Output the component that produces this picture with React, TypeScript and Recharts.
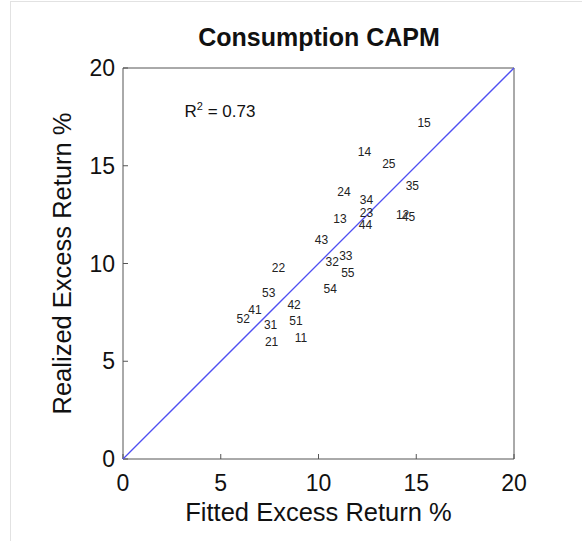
import { ScatterChart, Scatter, XAxis, YAxis, ReferenceLine } from "recharts";

// portfolio ids with fitted vs realized excess returns (%)
const portfolios = ["15", "14", "25", "35", "24", "34", "23", "13", "44", "12", "45", "43", "32", "33", "22", "55", "54", "53", "42", "41", "52", "51", "31", "21", "11"];
const fitted = [15.4, 12.35, 13.6, 14.8, 11.3, 12.45, 12.45, 11.1, 12.4, 14.3, 14.6, 10.15, 10.7, 11.4, 7.95, 11.5, 10.6, 7.45, 8.75, 6.75, 6.15, 8.85, 7.55, 7.6, 9.1];
const realized = [17.2, 15.7, 15.1, 13.95, 13.65, 13.25, 12.6, 12.3, 11.95, 12.5, 12.4, 11.2, 10.1, 10.4, 9.75, 9.5, 8.7, 8.5, 7.9, 7.6, 7.15, 7.05, 6.85, 6.0, 6.2];
const ticks = [0, 5, 10, 15, 20];
// 45 degree line
const diagX = [0, 20];
const diagY = [0, 20];

const data = portfolios.map((name, i) => ({ name, x: fitted[i], y: realized[i] }));
const diagonal = diagX.map((x, i) => ({ x, y: diagY[i] }));

const FONT = "Arial, 'Liberation Sans', sans-serif";
const BLUE = "#4f4ff2";

const PointLabel = (props: any) => (
  <text
    x={props.cx}
    y={props.cy}
    textAnchor="middle"
    dominantBaseline="central"
    fontSize={12}
    fontFamily={FONT}
    fill="#222">
    {props.payload.name}
  </text>
);

const YLabel = (props: any) => {
  const vb = props.viewBox;
  const cx = 62;
  const cy = vb.y + vb.height / 2;
  return (
    <text
      x={cx}
      y={cy}
      transform={`rotate(-90, ${cx}, ${cy})`}
      textAnchor="middle"
      dominantBaseline="central"
      fontSize={25}
      fontFamily={FONT}
      fill="#111"
      textLength={302}
      lengthAdjust="spacingAndGlyphs">
      Realized Excess Return %
    </text>
  );
};

export default function App() {
  const axisStroke = "#555";
  return (
    <div
      style={{
        position: "absolute",
        left: 0,
        top: 0,
        width: 582,
        height: 541,
        background: "#fff",
        fontFamily: FONT,
      }}>
      <div
        style={{
          position: "absolute",
          left: 10,
          top: 1,
          width: 572,
          height: 540,
          borderTop: "1px solid #e2e2e2",
          borderLeft: "1px solid #e2e2e2",
        }}
      />
      <div
        style={{
          position: "absolute",
          left: 0,
          width: 638,
          top: 23,
          textAlign: "center",
          fontSize: 25,
          fontWeight: "bold",
          color: "#111",
        }}>
        Consumption CAPM
      </div>
      <ScatterChart
        width={582}
        height={541}
        margin={{ top: 67, right: 67, bottom: 0, left: 63 }}
        style={{ position: "absolute", left: 0, top: 0 }}>
        <XAxis
          type="number"
          dataKey="x"
          domain={[0, 20]}
          ticks={ticks}
          height={82}
          stroke={axisStroke}
          tickSize={-5}
          tickMargin={21}
          tick={{ fontSize: 23, fill: "#111", fontFamily: FONT }}
          label={{
            value: "Fitted Excess Return %",
            position: "insideBottom",
            offset: 20,
            fontSize: 25.5,
            fill: "#111",
            fontFamily: FONT,
          }}
        />
        <XAxis
          xAxisId="top"
          orientation="top"
          type="number"
          dataKey="x"
          domain={[0, 20]}
          ticks={ticks}
          height={1}
          stroke={axisStroke}
          tickSize={-5}
          tickFormatter={() => ""}
        />
        <YAxis
          type="number"
          dataKey="y"
          domain={[0, 20]}
          ticks={ticks}
          width={60}
          stroke={axisStroke}
          tickSize={-5}
          tickMargin={13}
          tick={{ fontSize: 23, fill: "#111", fontFamily: FONT }}
          label={YLabel}
        />
        <YAxis
          yAxisId="right"
          orientation="right"
          type="number"
          dataKey="y"
          domain={[0, 20]}
          ticks={ticks}
          width={1}
          stroke={axisStroke}
          tickSize={-5}
          tickFormatter={() => ""}
        />
        <ReferenceLine
          x={3.15}
          stroke="none"
          label={(p: any) => (
            <text x={p.viewBox.x} y={117} fontSize={17} fontFamily={FONT} fill="#111">
              R
              <tspan dy={-7} fontSize={11}>2</tspan>
              <tspan dy={7}> = 0.73</tspan>
            </text>
          )}
        />
        <Scatter
          data={diagonal}
          fill={BLUE}
          stroke={BLUE}
          line={{ stroke: BLUE, strokeWidth: 1.3 }}
          shape={() => <g />}
          isAnimationActive={false}
        />
        <Scatter data={data} shape={PointLabel} isAnimationActive={false} />
        <Scatter xAxisId="top" yAxisId="right" data={[]} isAnimationActive={false} />
      </ScatterChart>
    </div>
  );
}
